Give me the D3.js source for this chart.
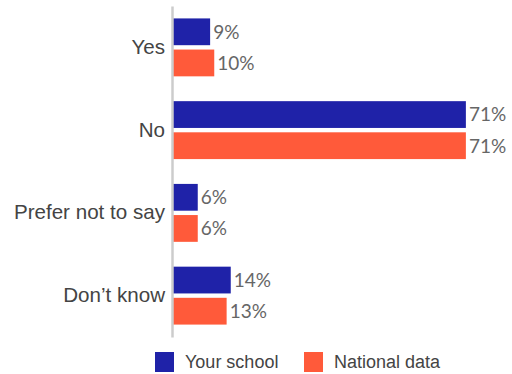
<!DOCTYPE html>
<html>
<head>
<meta charset="utf-8">
<script src="https://cdn.jsdelivr.net/npm/d3@7"></script>
<style>
  body { margin: 0; background: #fff; }
  svg { display: block; }
</style>
</head>
<body>
<svg width="512" height="374"></svg>
<script>
// chart data
const categories = ['Yes', 'No', 'Prefer not to say', 'Don\u2019t know'];
const seriesNames = ['Your school', 'National data'];
const yourSchool = [9, 71, 6, 14];
const nationalData = [10, 71, 6, 13];

const colors = ['#1f22a8', '#ff5a3a'];

const svg = d3.select('svg');
const margin = { top: 6, right: 9, bottom: 37, left: 173 };
const width = 512, height = 374;

// rows built from the arrays above
const rows = categories.map((c, i) => ({ category: c, values: [yourSchool[i], nationalData[i]] }));

const y = d3.scaleBand()
  .domain(categories)
  .range([margin.top, height - margin.bottom])
  .paddingInner(0.3)
  .paddingOuter(0.15);

const ySub = d3.scaleBand()
  .domain([0, 1])
  .range([0, y.bandwidth()])
  .paddingInner(0.14);

const x = d3.scaleLinear()
  .domain([0, 80])
  .range([margin.left, margin.left + 330]);

// bars
const groups = svg.selectAll('g.group').data(rows)
  .enter().append('g')
    .attr('class', 'group')
    .attr('transform', d => `translate(0, ${y(d.category)})`);

groups.selectAll('rect').data(d => d.values)
  .enter().append('rect')
    .attr('x', x(0))
    .attr('y', (d, i) => ySub(i))
    .attr('width', d => x(d) - x(0))
    .attr('height', ySub.bandwidth())
    .attr('fill', (d, i) => colors[i]);

groups.selectAll('text.value').data(d => d.values)
  .enter().append('text')
    .attr('class', 'value')
    .attr('x', d => x(d) + 3)
    .attr('y', (d, i) => ySub(i) + ySub.bandwidth() / 2)
    .attr('dy', '0.36em')
    .attr('font-family', 'Lato, sans-serif')
    .attr('font-size', 19)
    .attr('fill', '#666')
    .text(d => d + '%');

// category axis
const yAxis = d3.axisLeft(y).tickSize(0).tickPadding(7);
const axisG = svg.append('g')
  .attr('transform', `translate(${margin.left - 1}, 0)`)
  .call(yAxis);
axisG.select('.domain').attr('stroke', '#ccc').attr('stroke-width', 2.5);
axisG.selectAll('text')
  .attr('font-family', '"Liberation Sans", Arial, sans-serif')
  .attr('font-size', 20.6)
  .attr('fill', '#444');

// legend
const legendX = [155, 304];
const legend = svg.append('g').attr('transform', 'translate(0, 352)');
const items = legend.selectAll('g').data(seriesNames)
  .enter().append('g')
    .attr('transform', (d, i) => `translate(${legendX[i]}, 0)`);
items.append('rect')
  .attr('width', 19)
  .attr('height', 20)
  .attr('fill', (d, i) => colors[i]);
items.append('text')
  .attr('x', 30)
  .attr('y', 10)
  .attr('dy', '0.36em')
  .attr('font-family', '"Liberation Sans", Arial, sans-serif')
  .attr('font-size', 18)
  .attr('fill', '#444')
  .text(d => d);
</script>
</body>
</html>
